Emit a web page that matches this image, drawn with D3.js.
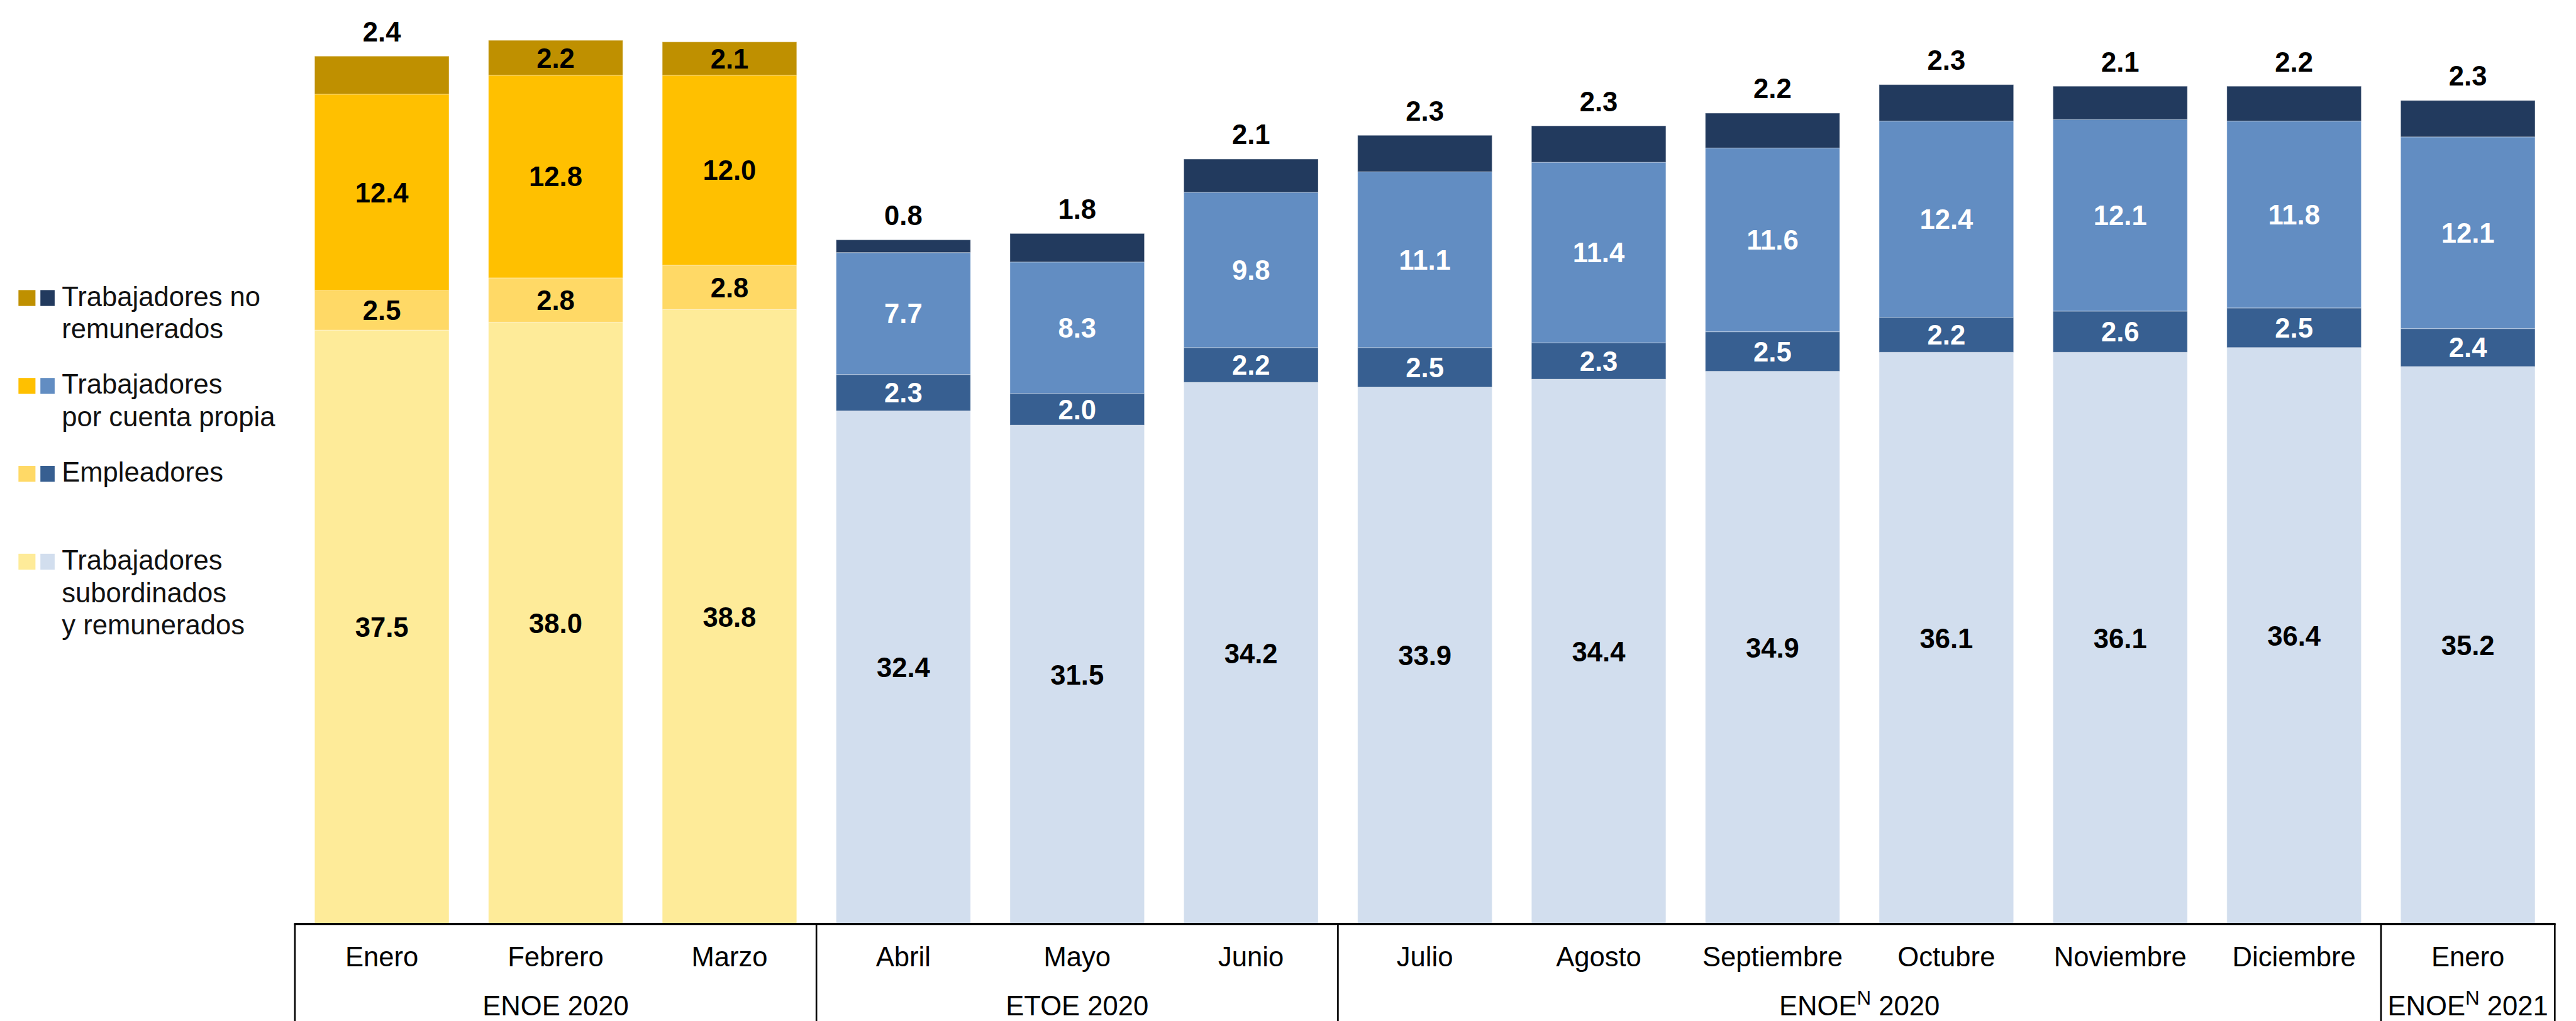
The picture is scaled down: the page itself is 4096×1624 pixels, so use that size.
<!DOCTYPE html>
<html>
<head>
<meta charset="utf-8">
<script src="https://cdn.jsdelivr.net/npm/d3@7"></script>
<style>
  body { margin: 0; background: #fff; }
  text { font-family: "Liberation Sans", Arial, sans-serif; }
</style>
</head>
<body>
<script>
// categorías (meses) y periodo de cada una
const categories = ['Enero', 'Febrero', 'Marzo', 'Abril', 'Mayo', 'Junio', 'Julio',
  'Agosto', 'Septiembre', 'Octubre', 'Noviembre', 'Diciembre', 'Enero'];
const groupNames = ['ENOE 2020', 'ETOE 2020', 'ENOE^N 2020', 'ENOE^N 2021'];
const groupOf = [0, 0, 0, 1, 1, 1, 2, 2, 2, 2, 2, 2, 3];

// series (millones de personas)
const subordinados  = [37.5, 38.0, 38.8, 32.4, 31.5, 34.2, 33.9, 34.4, 34.9, 36.1, 36.1, 36.4, 35.2];
const empleadores   = [2.5, 2.8, 2.8, 2.3, 2.0, 2.2, 2.5, 2.3, 2.5, 2.2, 2.6, 2.5, 2.4];
const cuentaPropia  = [12.4, 12.8, 12.0, 7.7, 8.3, 9.8, 11.1, 11.4, 11.6, 12.4, 12.1, 11.8, 12.1];
const noRemunerados = [2.4, 2.2, 2.1, 0.8, 1.8, 2.1, 2.3, 2.3, 2.2, 2.3, 2.1, 2.2, 2.3];
// etiqueta de "no remunerados" dentro de la barra
const nrInside = [false, true, true, false, false, false, false, false, false, false, false, false, false];

const legendItems = [
  { key: 'nr',  lines: ['Trabajadores no', 'remunerados'] },
  { key: 'cp',  lines: ['Trabajadores', 'por cuenta propia'] },
  { key: 'emp', lines: ['Empleadores'] },
  { key: 'sub', lines: ['Trabajadores', 'subordinados', 'y remunerados'] }
];

const gold = { sub: '#FEEB99', emp: '#FFD966', cp: '#FFC000', nr: '#BF9000' };
const blue = { sub: '#D2DEEE', emp: '#375F91', cp: '#628DC2', nr: '#223A5E' };
const blueText = { sub: '#000', emp: '#fff', cp: '#fff', nr: '#000' };

const W = 4695, H = 1862;
const baseY = 1685;
const fs = 50;

const svg = d3.select('body').append('svg')
  .attr('width', 4096).attr('height', 1624)
  .attr('viewBox', `0 0 ${W} ${H}`);

const x = d3.scaleBand()
  .domain(d3.range(categories.length))
  .range([537, 4657])
  .paddingInner(0.227)
  .paddingOuter(0.1135);

const y = d3.scaleLinear().domain([0, 58]).range([baseY, 10]);

const rows = categories.map((c, i) => ({
  i, sub: subordinados[i], emp: empleadores[i], cp: cuentaPropia[i], nr: noRemunerados[i]
}));
const keys = ['sub', 'emp', 'cp', 'nr'];
const series = d3.stack().keys(keys)(rows);
const fmt = d3.format('.1f');
const isGold = i => groupOf[i] === 0;

// barras
const layer = svg.append('g').selectAll('g')
  .data(series)
  .join('g');

layer.selectAll('rect')
  .data(s => s.map(d => ({ key: s.key, d })))
  .join('rect')
    .attr('x', p => x(p.d.data.i))
    .attr('y', p => y(p.d[1]))
    .attr('width', x.bandwidth())
    .attr('height', p => y(p.d[0]) - y(p.d[1]))
    .attr('fill', p => (isGold(p.d.data.i) ? gold : blue)[p.key])
    .attr('stroke', '#fff')
    .attr('stroke-opacity', 0.3)
    .attr('stroke-width', 1.5);

// etiquetas de datos
layer.selectAll('text')
  .data(s => s.map(d => ({ key: s.key, d })))
  .join('text')
    .attr('x', p => x(p.d.data.i) + x.bandwidth() / 2)
    .attr('y', p => {
      const i = p.d.data.i;
      if (p.key === 'nr' && !nrInside[i]) return y(p.d[1]) - 27;
      return (y(p.d[0]) + y(p.d[1])) / 2;
    })
    .attr('dy', p => (p.key === 'nr' && !nrInside[p.d.data.i]) ? 0 : '0.36em')
    .attr('text-anchor', 'middle')
    .attr('font-size', fs)
    .attr('font-weight', 'bold')
    .attr('fill', p => isGold(p.d.data.i) ? '#000' : blueText[p.key])
    .text(p => fmt(p.d.data[p.key]));

// eje inferior con recuadros
const axis = svg.append('g');
const x0 = x.range()[0], x1 = x.range()[1];
axis.append('line')
  .attr('x1', x0 - 1.5).attr('x2', x1 + 1.5)
  .attr('y1', baseY).attr('y2', baseY)
  .attr('stroke', '#000').attr('stroke-width', 4);

const bounds = [0];
groupOf.forEach((g, i) => { if (i > 0 && g !== groupOf[i - 1]) bounds.push(i); });
bounds.push(categories.length);

bounds.forEach(b => {
  const bx = x0 + b * x.step();
  axis.append('line')
    .attr('x1', bx).attr('x2', bx)
    .attr('y1', baseY).attr('y2', H)
    .attr('stroke', '#000').attr('stroke-width', 3);
});

axis.selectAll('text.cat')
  .data(categories)
  .join('text')
    .attr('class', 'cat')
    .attr('x', (d, i) => x(i) + x.bandwidth() / 2)
    .attr('y', 1762)
    .attr('text-anchor', 'middle')
    .attr('font-size', fs)
    .attr('fill', '#000')
    .text(d => d);

groupNames.forEach((name, g) => {
  const a = bounds[g], b = bounds[g + 1];
  const cx = x0 + (a + b) / 2 * x.step();
  const t = axis.append('text')
    .attr('x', cx).attr('y', 1852)
    .attr('text-anchor', 'middle')
    .attr('font-size', fs)
    .attr('fill', '#000');
  const parts = name.split('^N');
  if (parts.length === 1) {
    t.text(name);
  } else {
    t.append('tspan').text(parts[0]);
    t.append('tspan').attr('dy', -20).attr('font-size', 36).text('N');
    t.append('tspan').attr('dy', 20).text(parts[1]);
  }
});

// leyenda
const legend = svg.append('g');
legendItems.forEach((item, r) => {
  const by = 558 + r * 160.3;
  legend.append('rect')
    .attr('x', 33).attr('y', by - 29).attr('width', 31).attr('height', 29)
    .attr('fill', gold[item.key]);
  legend.append('rect')
    .attr('x', 73).attr('y', by - 29).attr('width', 26).attr('height', 29)
    .attr('fill', blue[item.key]);
  item.lines.forEach((ln, k) => {
    legend.append('text')
      .attr('x', 112).attr('y', by + k * 59)
      .attr('font-size', fs)
      .attr('fill', '#111')
      .text(ln);
  });
});
</script>
</body>
</html>
